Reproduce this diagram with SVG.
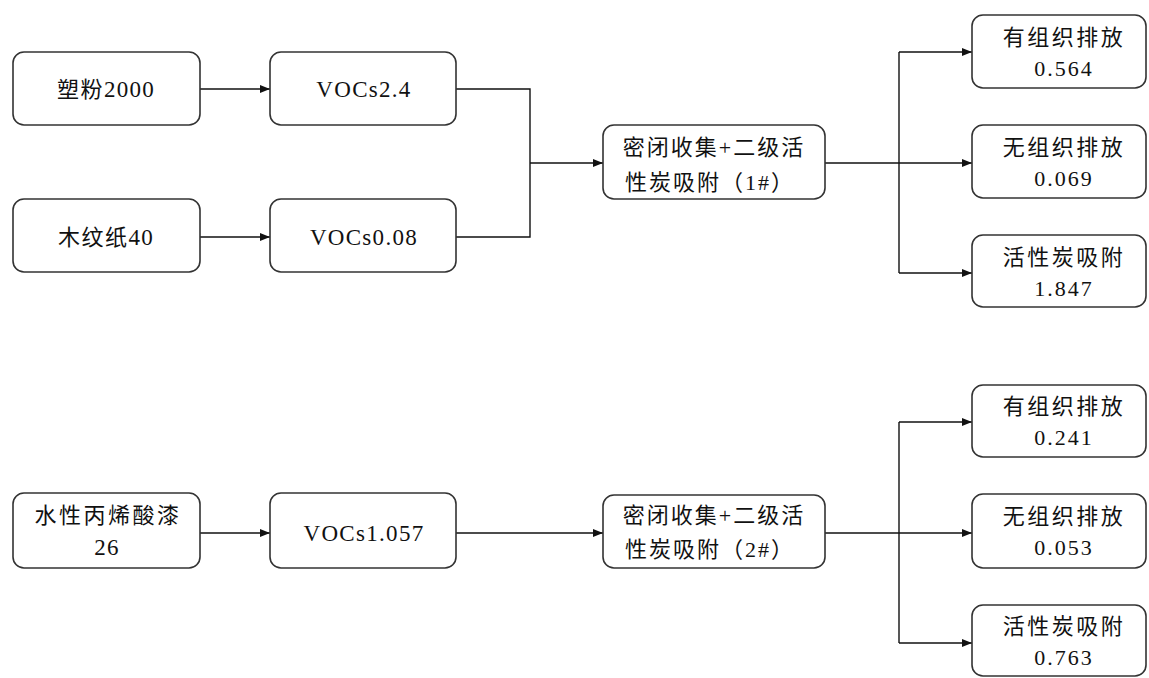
<svg xmlns="http://www.w3.org/2000/svg" width="1149" height="678" viewBox="0 0 1149 678">
<style>
.box{fill:#fff;stroke:#333;stroke-width:1.6}
.t{font-family:"Liberation Serif","Noto Sans CJK SC",serif;font-size:22px;fill:#111;text-anchor:middle}
.k{letter-spacing:2.5px}
.m{letter-spacing:1.5px}
.v{font-size:23px;letter-spacing:1.3px}
.n{letter-spacing:2px}
.c{fill:none;stroke:#111;stroke-width:1.4}
</style>
<defs>
<marker id="ah" markerWidth="10" markerHeight="8" refX="10" refY="4" orient="auto" markerUnits="userSpaceOnUse">
<path d="M0,0 L10,4 L0,8 Z" fill="#111"/>
</marker>
</defs>
<rect width="1149" height="678" fill="#fff"/>
<g id="connectors">
<path class="c" d="M200,89 H270" marker-end="url(#ah)"/>
<path class="c" d="M200,237 H270" marker-end="url(#ah)"/>
<path class="c" d="M456,89 H530 V237 H456"/>
<path class="c" d="M530,163 H603" marker-end="url(#ah)"/>
<path class="c" d="M825,163 H972" marker-end="url(#ah)"/>
<path class="c" d="M899,52 V273"/>
<path class="c" d="M899,52 H972" marker-end="url(#ah)"/>
<path class="c" d="M899,273 H972" marker-end="url(#ah)"/>
<path class="c" d="M200,533 H270" marker-end="url(#ah)"/>
<path class="c" d="M456,533 H603" marker-end="url(#ah)"/>
<path class="c" d="M825,533 H972" marker-end="url(#ah)"/>
<path class="c" d="M899,422 V643"/>
<path class="c" d="M899,422 H972" marker-end="url(#ah)"/>
<path class="c" d="M899,643 H972" marker-end="url(#ah)"/>
</g>
<g id="n1"><rect class="box" x="13" y="52" width="187" height="73" rx="11"/><text class="t" x="106" y="97"><tspan class="m">塑粉</tspan><tspan class="v">2000</tspan></text></g>
<g id="n2"><rect class="box" x="270" y="52" width="186" height="73" rx="11"/><text class="t v" x="364" y="97">VOCs2.4</text></g>
<g id="n3"><rect class="box" x="13" y="199" width="187" height="73" rx="11"/><text class="t" x="106" y="245"><tspan class="m">木纹纸</tspan><tspan class="v">40</tspan></text></g>
<g id="n4"><rect class="box" x="270" y="199" width="186" height="73" rx="11"/><text class="t v" x="364" y="245">VOCs0.08</text></g>
<g id="n5"><rect class="box" x="603" y="125" width="222" height="74" rx="11"/><text class="t" x="714" y="155" letter-spacing="2">密闭收集+二级活</text><text class="t" x="710" y="190" letter-spacing="2">性炭吸附（1#）</text></g>
<g id="n6"><rect class="box" x="972" y="15" width="174" height="73" rx="11"/><text class="t k" x="1064" y="45">有组织排放</text><text class="t n" x="1064" y="76">0.564</text></g>
<g id="n7"><rect class="box" x="972" y="125" width="174" height="73" rx="11"/><text class="t k" x="1064" y="155">无组织排放</text><text class="t n" x="1064" y="186">0.069</text></g>
<g id="n8"><rect class="box" x="972" y="235" width="174" height="72" rx="11"/><text class="t k" x="1064" y="265">活性炭吸附</text><text class="t n" x="1064" y="296">1.847</text></g>
<g id="n9"><rect class="box" x="13" y="493" width="187" height="75" rx="11"/><text class="t" x="108" y="523" letter-spacing="2.5">水性丙烯酸漆</text><text class="t v" x="107" y="555">26</text></g>
<g id="n10"><rect class="box" x="270" y="493" width="186" height="75" rx="11"/><text class="t v" x="364" y="541">VOCs1.057</text></g>
<g id="n11"><rect class="box" x="603" y="495" width="222" height="73" rx="11"/><text class="t" x="714" y="523" letter-spacing="2">密闭收集+二级活</text><text class="t" x="710" y="557" letter-spacing="2">性炭吸附（2#）</text></g>
<g id="n12"><rect class="box" x="972" y="385" width="174" height="72" rx="11"/><text class="t k" x="1064" y="414">有组织排放</text><text class="t n" x="1064" y="445">0.241</text></g>
<g id="n13"><rect class="box" x="972" y="494" width="174" height="74" rx="11"/><text class="t k" x="1064" y="524">无组织排放</text><text class="t n" x="1064" y="555">0.053</text></g>
<g id="n14"><rect class="box" x="972" y="605" width="174" height="71" rx="11"/><text class="t k" x="1064" y="634">活性炭吸附</text><text class="t n" x="1064" y="665">0.763</text></g>
</svg>
